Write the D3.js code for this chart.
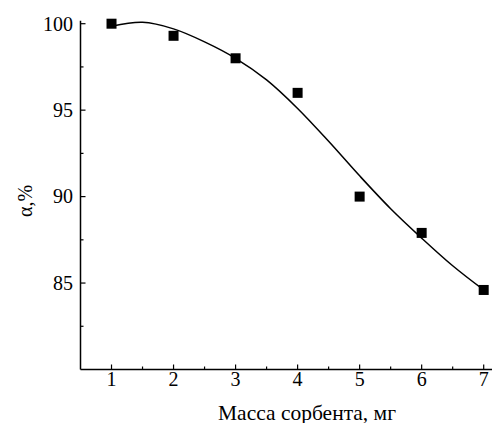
<!DOCTYPE html>
<html>
<head>
<meta charset="utf-8">
<script src="https://cdn.jsdelivr.net/npm/d3@7"></script>
<style>
  html, body { margin: 0; padding: 0; background: #fff; }
  svg { display: block; }
  svg text { font-family: "Liberation Serif", "Times New Roman", serif; }
</style>
</head>
<body>
<script>
// Measured points
const massX = [1, 2, 3, 4, 5, 6, 7];
const alphaY = [100.0, 99.3, 98.0, 96.0, 90.0, 87.9, 84.6];
// Fitted curve
const fitX = [1, 1.5, 2, 2.5, 3, 3.5, 4, 4.5, 5, 5.5, 6, 6.5, 7];
const fitY = [99.85, 100.08, 99.7, 98.95, 98.0, 96.75, 95.1, 93.2, 91.2, 89.3, 87.6, 86.0, 84.6];
const xTicks = [1, 2, 3, 4, 5, 6, 7];
const yTicks = [85, 90, 95, 100];
const xLabel = "Масса сорбента, мг";
const yLabel = "α,%";

const W = 492, H = 423;
const svg = d3.select("body").append("svg").attr("width", W).attr("height", H);

const x = d3.scaleLinear().domain([0.5, 7.15]).range([80.5, 493]);
const y = d3.scaleLinear().domain([80, 100]).range([369.5, 23.7]);
const yTop = 100.17;

// axes lines
svg.append("line").attr("x1", x(0.5)).attr("x2", x(7.15)).attr("y1", y(80)).attr("y2", y(80))
  .attr("stroke", "#000").attr("stroke-width", 1.5);
svg.append("line").attr("x1", x(0.5)).attr("x2", x(0.5)).attr("y1", y(80)).attr("y2", y(yTop))
  .attr("stroke", "#000").attr("stroke-width", 1.5);

// x ticks (inward)
const xMinor = d3.range(1.5, 7.1, 1);
svg.selectAll(".xt").data(xTicks).enter().append("line")
  .attr("x1", d => x(d)).attr("x2", d => x(d)).attr("y1", y(80)).attr("y2", y(80) - 5)
  .attr("stroke", "#000").attr("stroke-width", 1.2);
svg.selectAll(".xm").data(xMinor).enter().append("line")
  .attr("x1", d => x(d)).attr("x2", d => x(d)).attr("y1", y(80)).attr("y2", y(80) - 3)
  .attr("stroke", "#000").attr("stroke-width", 1.2);
svg.selectAll(".xl").data(xTicks).enter().append("text")
  .attr("x", d => x(d)).attr("y", 386).attr("text-anchor", "middle")
  .attr("font-size", 20).attr("fill", "#000").text(d => d);

// y ticks (inward)
const yMinor = [82.5, 87.5, 92.5, 97.5];
svg.selectAll(".yt").data(yTicks).enter().append("line")
  .attr("x1", x(0.5)).attr("x2", x(0.5) + 5).attr("y1", d => y(d)).attr("y2", d => y(d))
  .attr("stroke", "#000").attr("stroke-width", 1.2);
svg.selectAll(".ym").data(yMinor).enter().append("line")
  .attr("x1", x(0.5)).attr("x2", x(0.5) + 3).attr("y1", d => y(d)).attr("y2", d => y(d))
  .attr("stroke", "#000").attr("stroke-width", 1.2);
svg.selectAll(".yl").data(yTicks).enter().append("text")
  .attr("x", 73).attr("y", d => y(d)).attr("dy", "0.34em").attr("text-anchor", "end")
  .attr("font-size", 20).attr("fill", "#000").text(d => d);

// labels
svg.append("text").attr("x", 307).attr("y", 419.5).attr("text-anchor", "middle")
  .attr("font-size", 21.5).attr("fill", "#000").text(xLabel);
svg.append("text").attr("transform", "translate(32,201) rotate(-90)").attr("text-anchor", "middle")
  .attr("font-size", 20).attr("fill", "#000").text(yLabel);

// fitted curve
const line = d3.line().x(d => x(d[0])).y(d => y(d[1])).curve(d3.curveCatmullRom.alpha(0.5));
svg.append("path").datum(d3.zip(fitX, fitY)).attr("d", line)
  .attr("fill", "none").attr("stroke", "#000").attr("stroke-width", 1.5);

// markers
const s = 10;
svg.selectAll(".pt").data(d3.zip(massX, alphaY)).enter().append("rect")
  .attr("x", d => x(d[0]) - s / 2).attr("y", d => y(d[1]) - s / 2)
  .attr("width", s).attr("height", s).attr("fill", "#000");
</script>
</body>
</html>
